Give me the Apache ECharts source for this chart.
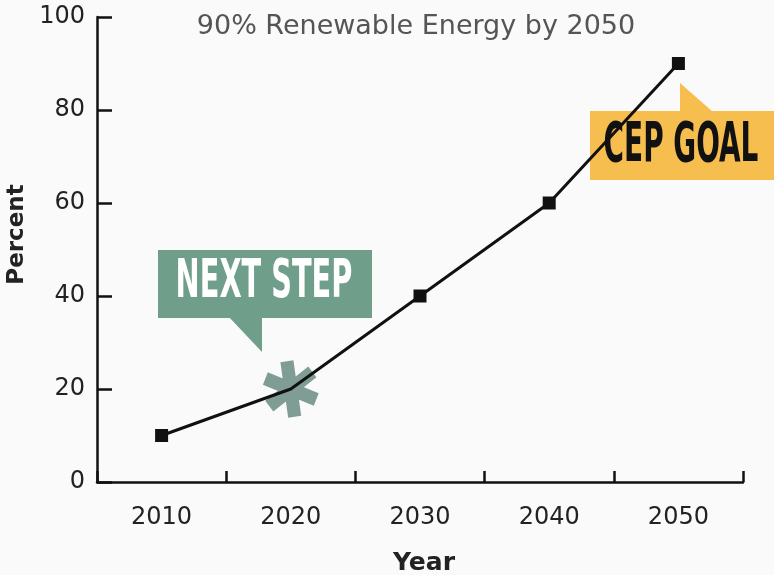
<!DOCTYPE html>
<html>
<head>
<meta charset="utf-8">
<script src="https://cdn.jsdelivr.net/npm/echarts@6/dist/echarts.min.js"></script>
<style>
html,body{margin:0;padding:0;background:#fafafa;}
#chart{width:774px;height:575px;}
</style>
</head>
<body>
<div id="chart"></div>
<script>
var titleText = '90% Renewable Energy by 2050';
var years = ['2010', '2020', '2030', '2040', '2050'];
var percent = [10, 20, 40, 60, 90];
var yTicks = [0, 20, 40, 60, 80, 100];
var nextStepIndex = 1;
var calloutNext = 'NEXT STEP';
var calloutGoal = 'CEP GOAL';

var asteriskPath = 'path://M-6,-25L6,-25L6,25L-6,25Z' +
  'M18.65,-17.7L24.65,-7.3L-18.65,17.7L-24.65,7.3Z' +
  'M24.65,7.3L18.65,17.7L-24.65,-7.3L-18.65,-17.7Z';

var symbolData = percent.map(function (v, i) {
  if (i === nextStepIndex) {
    return {
      value: v,
      symbol: asteriskPath,
      symbolSize: [54, 56],
      symbolRotate: 8,
      itemStyle: { color: '#7f9d94' }
    };
  }
  return v;
});

var font = 'DejaVu Sans';
var chart = echarts.init(document.getElementById('chart'));
chart.setOption({
  backgroundColor: '#fafafa',
  animation: false,
  title: {
    text: titleText,
    left: 411, top: 8, textAlign: 'center',
    textStyle: { fontFamily: font, fontSize: 27, fontWeight: 'normal', color: '#555' }
  },
  grid: { left: 97, right: 31, top: 17, bottom: 93, containLabel: false, outerBoundsMode: 'none' },
  xAxis: {
    type: 'category',
    data: years,
    boundaryGap: true,
    name: 'Year',
    nameLocation: 'middle',
    nameGap: 69,
    nameTextStyle: { fontFamily: font, fontSize: 25, fontWeight: 'bold', color: '#222', padding: [0, 0, 0, 8] },
    axisLine: { lineStyle: { color: '#111', width: 2.5 } },
    axisTick: { show: true, interval: 0, inside: true, length: 11, lineStyle: { color: '#111', width: 2.5 } },
    axisLabel: { fontFamily: font, fontSize: 24, color: '#222', margin: 24 },
    splitLine: { show: false }
  },
  yAxis: {
    type: 'value',
    min: yTicks[0], max: yTicks[yTicks.length - 1], interval: 20,
    name: 'Percent',
    nameLocation: 'middle',
    nameGap: 55,
    nameRotate: 90,
    nameTextStyle: { fontFamily: font, fontSize: 23, fontWeight: 'bold', color: '#222', padding: [0, 0, 0, 30] },
    axisLine: { show: true, lineStyle: { color: '#111', width: 2.5 } },
    axisTick: { show: true, inside: true, length: 15, lineStyle: { color: '#111', width: 2.5 } },
    axisLabel: { fontFamily: font, fontSize: 24, color: '#222', margin: 12 },
    splitLine: { show: false }
  },
  graphic: [
    {
      type: 'group', z: 5,
      children: [
        { type: 'polygon', shape: { points: [[228, 316], [262, 316], [262, 352]] }, style: { fill: '#6f9e8b' } },
        { type: 'rect', shape: { x: 158, y: 250, width: 214, height: 68 }, style: { fill: '#6f9e8b' } },
        { type: 'text', x: 264, y: 283, scaleY: 1.65,
          style: { text: calloutNext, fill: '#ffffff', font: 'bold 32px "DejaVu Sans Condensed", "Liberation Sans Narrow", sans-serif', align: 'center', verticalAlign: 'middle' } }
      ]
    },
    {
      type: 'group', z: 5,
      children: [
        { type: 'polygon', shape: { points: [[680, 83], [680, 112], [713, 112]] }, style: { fill: '#f6bd4f' } },
        { type: 'rect', shape: { x: 590, y: 111, width: 184, height: 69 }, style: { fill: '#f6bd4f' } },
        { type: 'text', x: 681, y: 147, scaleY: 1.75,
          style: { text: calloutGoal, fill: '#111111', font: 'bold 31px "DejaVu Sans Condensed", "Liberation Sans Narrow", sans-serif', align: 'center', verticalAlign: 'middle' } }
      ]
    }
  ],
  series: [
    {
      type: 'line',
      data: symbolData,
      symbol: 'rect',
      symbolSize: 13,
      lineStyle: { width: 0, opacity: 0 },
      itemStyle: { color: '#111' },
      z: 2
    },
    {
      type: 'line',
      data: percent,
      showSymbol: false,
      lineStyle: { color: '#111', width: 3 },
      z: 3
    }
  ]
});
</script>
</body>
</html>
